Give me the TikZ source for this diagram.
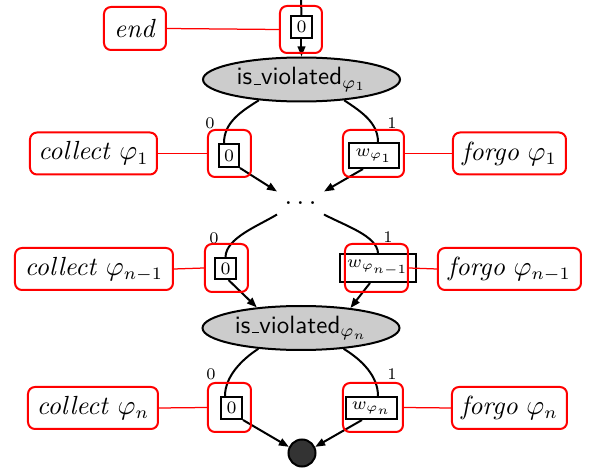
\documentclass[tikz,border=0pt]{standalone}
\usetikzlibrary{arrows.meta,shapes.geometric}
\def\pxu{0.4pt}
\newcommand\myusc{\leavevmode\kern.06em\vbox{\hrule width .3em}}
\begin{document}
\begin{tikzpicture}[x=0.4pt,y=-0.4pt,
  every node/.style={inner sep=0pt},
  lbl/.style={draw=red, line width=0.8pt, rounded corners=2.8pt, font=\fontsize{10.5}{12}\selectfont, minimum height=42*\pxu},
  hl/.style={draw=red, line width=0.8pt, rounded corners=2.8pt, minimum height=47*\pxu},
  vbox/.style={draw, line width=0.8pt, font=\fontsize{7}{8}\selectfont, minimum height=22*\pxu},
  tst/.style={ellipse, draw, line width=0.8pt, fill=black!20, font=\sffamily\fontsize{10}{12}\selectfont, minimum width=197*\pxu, minimum height=44*\pxu},
  elab/.style={font=\fontsize{6.5}{7}\selectfont},
  edge/.style={line width=0.8pt},
  arr/.style={edge, -{Triangle[length=4pt,width=3pt]}},
  link/.style={draw=red, line width=0.5pt}]
\useasboundingbox (0,0) rectangle (589,473);

% ---- black nodes
\coordinate (top) at (301,0);
\node[vbox, minimum width=21*\pxu] (b0) at (301.5,27) {0};
\node[tst] (ell1) at (301.5,79.5) {is\myusc violated$_{\varphi_1}$};
\node[vbox, minimum width=20*\pxu, minimum height=23*\pxu] (b1L) at (229,155.5) {0};
\node[vbox, minimum width=50*\pxu, minimum height=25*\pxu] (b1R) at (374,155.5) {$w_{\varphi_1}$};
\node[font=\fontsize{10.5}{12}\selectfont, minimum width=46*\pxu, minimum height=22*\pxu] (dots) at (300.5,203) {$\ldots$};
\node[vbox, minimum width=21*\pxu, minimum height=21*\pxu] (b2L) at (225.5,268.5) {0};
\node[vbox, minimum width=76*\pxu, minimum height=28*\pxu] (b2R) at (378,268) {$w_{\varphi_{n-1}}$};
\node[tst] (ell2) at (301,328) {is\myusc violated$_{\varphi_n}$};
\node[vbox, minimum width=21*\pxu] (b3L) at (231.5,408) {0};
\node[vbox, minimum width=51*\pxu] (b3R) at (371.5,408) {$w_{\varphi_n}$};
\node[circle, draw, line width=0.8pt, fill=black!80, minimum size=27*\pxu] (sink) at (302,453) {};

% ---- edge labels
\node[elab] (e1a) at (210,123) {0};
\node[elab] (e1b) at (392,123) {1};
\node[elab] (e2a) at (214,238) {0};
\node[elab] (e2b) at (388,237) {1};
\node[elab] (e3a) at (211,374) {0};
\node[elab] (e3b) at (392,374) {1};

% ---- black connectors
\draw[edge] (top) -- (b0.north);
\draw[arr] (b0.south) -- (ell1.north);
\draw[edge] (ell1.206) .. controls (240,112) and (224,123) .. ([xshift=-5*\pxu]b1L.north);
\draw[edge] (ell1.334) .. controls (362,112) and (378,123) .. ([xshift=4*\pxu]b1R.north);
\draw[arr] (b1L.south east) -- (dots.north west);
\draw[arr] ([xshift=-11*\pxu]b1R.south) -- (dots.north east);
\draw[edge] (dots.south west) .. controls (258,226) and (226,238) .. (b2L.north);
\draw[edge] (dots.south east) .. controls (346,226) and (377,236) .. (b2R.north);
\draw[arr] ([xshift=3*\pxu]b2L.south) -- (ell2.155);
\draw[arr] ([xshift=-8*\pxu]b2R.south) -- (ell2.22);
\draw[edge] (ell2.206) .. controls (241,360) and (225,377) .. ([xshift=-6.5*\pxu]b3L.north);
\draw[edge] (ell2.334) .. controls (362,360) and (378,376) .. ([xshift=6.5*\pxu]b3R.north);
\draw[arr] (b3L.south east) -- (sink.155);
\draw[arr] ([xshift=-9.5*\pxu]b3R.south) -- (sink.25);

% ---- red annotation boxes
\node[lbl, minimum width=62*\pxu, minimum height=43*\pxu] (endl) at (135,28.5) {\textit{end}};
\node[hl, minimum width=42*\pxu] (h0) at (301,29.5) {};
\node[lbl, minimum width=127*\pxu] (c1) at (93.5,153.5) {\textit{collect} $\varphi_1$};
\node[hl, minimum width=43*\pxu] (h1L) at (229.5,153.5) {};
\node[hl, minimum width=61*\pxu] (h1R) at (373.5,153.5) {};
\node[lbl, minimum width=113*\pxu] (f1) at (509.5,153.5) {\textit{forgo} $\varphi_1$};
\node[lbl, minimum width=158*\pxu] (c2) at (94,269) {\textit{collect} $\varphi_{n-1}$};
\node[hl, minimum width=43*\pxu, minimum height=48*\pxu] (h2L) at (226.5,268) {};
\node[hl, minimum width=63*\pxu, minimum height=48*\pxu] (h2R) at (376.5,268) {};
\node[lbl, minimum width=143*\pxu] (f2) at (509.5,269) {\textit{forgo} $\varphi_{n-1}$};
\node[lbl, minimum width=130*\pxu] (c3) at (93,408) {\textit{collect} $\varphi_n$};
\node[hl, minimum width=43*\pxu, minimum height=49*\pxu] (h3L) at (229.5,407.5) {};
\node[hl, minimum width=60*\pxu, minimum height=49*\pxu] (h3R) at (373,407.5) {};
\node[lbl, minimum width=115*\pxu] (f3) at (509.5,408) {\textit{forgo} $\varphi_n$};

% ---- red links
\draw[link] (endl.east) -- (h0.west);
\draw[link] (c1.east) -- (h1L.west);
\draw[link] (h1R.east) -- (f1.west);
\draw[link] (c2.east) -- (h2L.west);
\draw[link] (h2R.east) -- (f2.west);
\draw[link] (c3.east) -- (h3L.west);
\draw[link] (h3R.east) -- (f3.west);
\end{tikzpicture}
\end{document}
